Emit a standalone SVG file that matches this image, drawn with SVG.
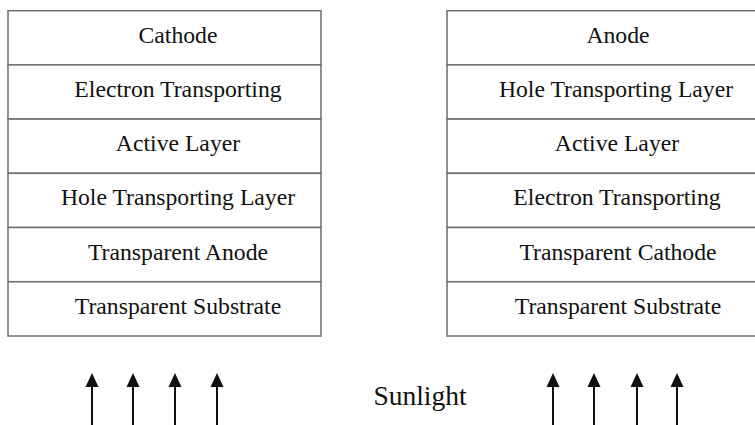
<svg xmlns="http://www.w3.org/2000/svg" width="755" height="425" viewBox="0 0 755 425">
<style>
.box{fill:#fff;stroke:#6e6e6e;stroke-width:1.5}
.t{font-family:"Liberation Serif","Times New Roman",serif;font-size:23.7px;fill:#111;text-anchor:middle}
.sun{font-family:"Liberation Serif","Times New Roman",serif;font-size:27.5px;fill:#111;text-anchor:middle}
.arr{stroke:#111;stroke-width:2;fill:none}
</style>
<defs>
<path id="head" d="M-6.5,14 L0,0 L6.5,14 Z" fill="#111"/>
</defs>
<rect width="755" height="425" fill="#fff"/>
<g id="left-stack">
<g id="l-cathode"><rect class="box" x="8" y="10.7" width="313" height="54.2"/><text class="t" x="178" y="43">Cathode</text></g>
<g id="l-etl"><rect class="box" x="8" y="64.9" width="313" height="54.2"/><text class="t" x="178" y="97">Electron Transporting</text></g>
<g id="l-active"><rect class="box" x="8" y="119.1" width="313" height="54.2"/><text class="t" x="178" y="151.2">Active Layer</text></g>
<g id="l-htl"><rect class="box" x="8" y="173.3" width="313" height="54.2"/><text class="t" x="178" y="205.4">Hole Transporting Layer</text></g>
<g id="l-anode"><rect class="box" x="8" y="227.5" width="313" height="54.2"/><text class="t" x="178" y="260.3">Transparent Anode</text></g>
<g id="l-substrate"><rect class="box" x="8" y="281.8" width="313" height="54.2"/><text class="t" x="178" y="313.8">Transparent Substrate</text></g>
</g>
<g id="right-stack">
<g id="r-anode"><rect class="box" x="447" y="10.7" width="343" height="54.2"/><text class="t" x="618" y="43">Anode</text></g>
<g id="r-htl"><rect class="box" x="447" y="64.9" width="343" height="54.2"/><text class="t" x="616" y="97">Hole Transporting Layer</text></g>
<g id="r-active"><rect class="box" x="447" y="119.1" width="343" height="54.2"/><text class="t" x="617" y="151.2">Active Layer</text></g>
<g id="r-etl"><rect class="box" x="447" y="173.3" width="343" height="54.2"/><text class="t" x="617" y="205.4">Electron Transporting</text></g>
<g id="r-cathode"><rect class="box" x="447" y="227.5" width="343" height="54.2"/><text class="t" x="618" y="260.3">Transparent Cathode</text></g>
<g id="r-substrate"><rect class="box" x="447" y="281.8" width="343" height="54.2"/><text class="t" x="618" y="313.8">Transparent Substrate</text></g>
</g>
<g id="sunlight"><text class="sun" x="420" y="405">Sunlight</text></g>
<g id="connectors">
<g><line class="arr" x1="92" y1="385" x2="92" y2="425"/><use href="#head" x="92" y="373"/></g>
<g><line class="arr" x1="133" y1="385" x2="133" y2="425"/><use href="#head" x="133" y="373"/></g>
<g><line class="arr" x1="175" y1="385" x2="175" y2="425"/><use href="#head" x="175" y="373"/></g>
<g><line class="arr" x1="217" y1="385" x2="217" y2="425"/><use href="#head" x="217" y="373"/></g>
<g><line class="arr" x1="553" y1="385" x2="553" y2="425"/><use href="#head" x="553" y="373"/></g>
<g><line class="arr" x1="594" y1="385" x2="594" y2="425"/><use href="#head" x="594" y="373"/></g>
<g><line class="arr" x1="637" y1="385" x2="637" y2="425"/><use href="#head" x="637" y="373"/></g>
<g><line class="arr" x1="677" y1="385" x2="677" y2="425"/><use href="#head" x="677" y="373"/></g>
</g>
</svg>
